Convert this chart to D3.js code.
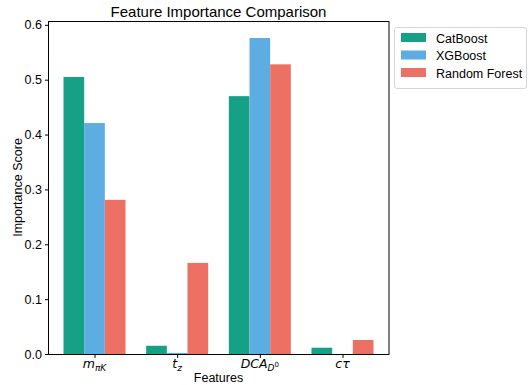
<!DOCTYPE html>
<html>
<head>
<meta charset="utf-8">
<script src="https://cdn.jsdelivr.net/npm/d3@7"></script>
<style>
  html, body { margin: 0; padding: 0; background: #fff; }
  svg { display: block; font-family: "Liberation Sans", Arial, Helvetica, sans-serif; }
</style>
</head>
<body>
<svg id="chart" width="529" height="385"></svg>
<script>
// Feature importance per model
const features = ["mpiK", "tz", "DCA", "ctau"];
const models = ["CatBoost", "XGBoost", "Random Forest"];
const catboost = [0.505, 0.015, 0.470, 0.0115];
const xgboost = [0.421, 0.002, 0.576, 0.0];
const randomForest = [0.281, 0.166, 0.528, 0.0255];
const colors = ["#16A085", "#5DADE2", "#EC7063"];
const yTicks = [0.0, 0.1, 0.2, 0.3, 0.4, 0.5, 0.6];

const series = [catboost, xgboost, randomForest];

const svg = d3.select("#chart");
const plot = { left: 48, right: 389, top: 21, bottom: 354 };

const barWidth = 0.25;
const x = d3.scaleLinear().domain([-0.5625, 3.5625]).range([plot.left, plot.right]);
const y = d3.scaleLinear().domain([0, 0.607]).range([plot.bottom, plot.top]);

// Bars
series.forEach((vals, si) => {
  svg.append("g").selectAll("rect")
    .data(vals)
    .join("rect")
    .attr("x", (d, i) => x(i + (si - 1) * barWidth - barWidth / 2))
    .attr("width", x(barWidth) - x(0))
    .attr("y", d => y(d))
    .attr("height", d => y(0) - y(d))
    .attr("fill", colors[si]);
});

// Frame
svg.append("rect")
  .attr("x", plot.left + 0.5).attr("y", plot.top + 0.5)
  .attr("width", plot.right - plot.left - 0.5)
  .attr("height", plot.bottom - plot.top)
  .attr("fill", "none").attr("stroke", "#000").attr("stroke-width", 1);

// Y axis
const yAxis = svg.append("g")
  .attr("transform", `translate(${plot.left + 0.5},0)`)
  .call(d3.axisLeft(y).tickValues(yTicks).tickFormat(d3.format(".1f")).tickSizeOuter(0).tickSize(3.5).tickPadding(3));
yAxis.select(".domain").remove();
yAxis.selectAll("text").attr("font-size", 12.5).attr("fill", "#000")
  .attr("font-family", "Liberation Sans, Arial, sans-serif");
yAxis.selectAll("line").attr("stroke", "#000");

// X axis
const xAxis = svg.append("g")
  .attr("transform", `translate(0,${plot.bottom + 0.5})`)
  .call(d3.axisBottom(x).tickValues(d3.range(features.length)).tickFormat("").tickSizeOuter(0).tickSize(3.5));
xAxis.select(".domain").remove();
xAxis.selectAll("line").attr("stroke", "#000");

// Math-style tick labels
const labelY = 368;
const mathFont = "DejaVu Sans, sans-serif";
const tickLabels = [
  [{ t: "m", it: true }, { t: "πK", it: true, sub: true }],
  [{ t: "t", it: true }, { t: "z", it: true, sub: true }],
  [{ t: "DCA", it: true }, { t: "D", it: true, sub: true }, { t: "0", sup2: true }],
  [{ t: "cτ", it: true }]
];
tickLabels.forEach((parts, i) => {
  const txt = svg.append("text")
    .attr("x", x(i)).attr("y", labelY)
    .attr("text-anchor", "middle")
    .attr("font-family", mathFont)
    .attr("font-size", 12.5)
    .attr("fill", "#000");
  let dy = 0;
  parts.forEach(p => {
    const ts = txt.append("tspan").text(p.t);
    if (p.it) ts.attr("font-style", "italic");
    let target = 0;
    if (p.sub) { target = 3; ts.attr("font-size", 9); }
    if (p.sup2) { target = -1; ts.attr("font-size", 7); }
    ts.attr("dy", target - dy);
    dy = target;
  });
});

// Axis titles
svg.append("text")
  .attr("x", (plot.left + plot.right) / 2).attr("y", 382)
  .attr("text-anchor", "middle").attr("font-size", 12.5).attr("fill", "#000")
  .text("Features");

svg.append("text")
  .attr("transform", `translate(22,${(plot.top + plot.bottom) / 2}) rotate(-90)`)
  .attr("text-anchor", "middle").attr("font-size", 12.5).attr("fill", "#000")
  .text("Importance Score");

// Title
svg.append("text")
  .attr("x", (plot.left + plot.right) / 2).attr("y", 17)
  .attr("text-anchor", "middle").attr("font-size", 15).attr("fill", "#000")
  .text("Feature Importance Comparison");

// Legend
const legend = svg.append("g").attr("transform", "translate(394,27)");
legend.append("rect")
  .attr("x", 0.5).attr("y", 0.5).attr("width", 132).attr("height", 61)
  .attr("rx", 2.5).attr("fill", "#fff").attr("stroke", "#d6d6d6").attr("stroke-width", 1);
models.forEach((m, i) => {
  const gy = 11 + i * 17.5;
  legend.append("rect")
    .attr("x", 7).attr("y", gy - 5).attr("width", 25).attr("height", 9)
    .attr("fill", colors[i]);
  legend.append("text")
    .attr("x", 42).attr("y", gy + 4.5)
    .attr("font-size", 12.5).attr("fill", "#000")
    .text(m);
});
</script>
</body>
</html>
